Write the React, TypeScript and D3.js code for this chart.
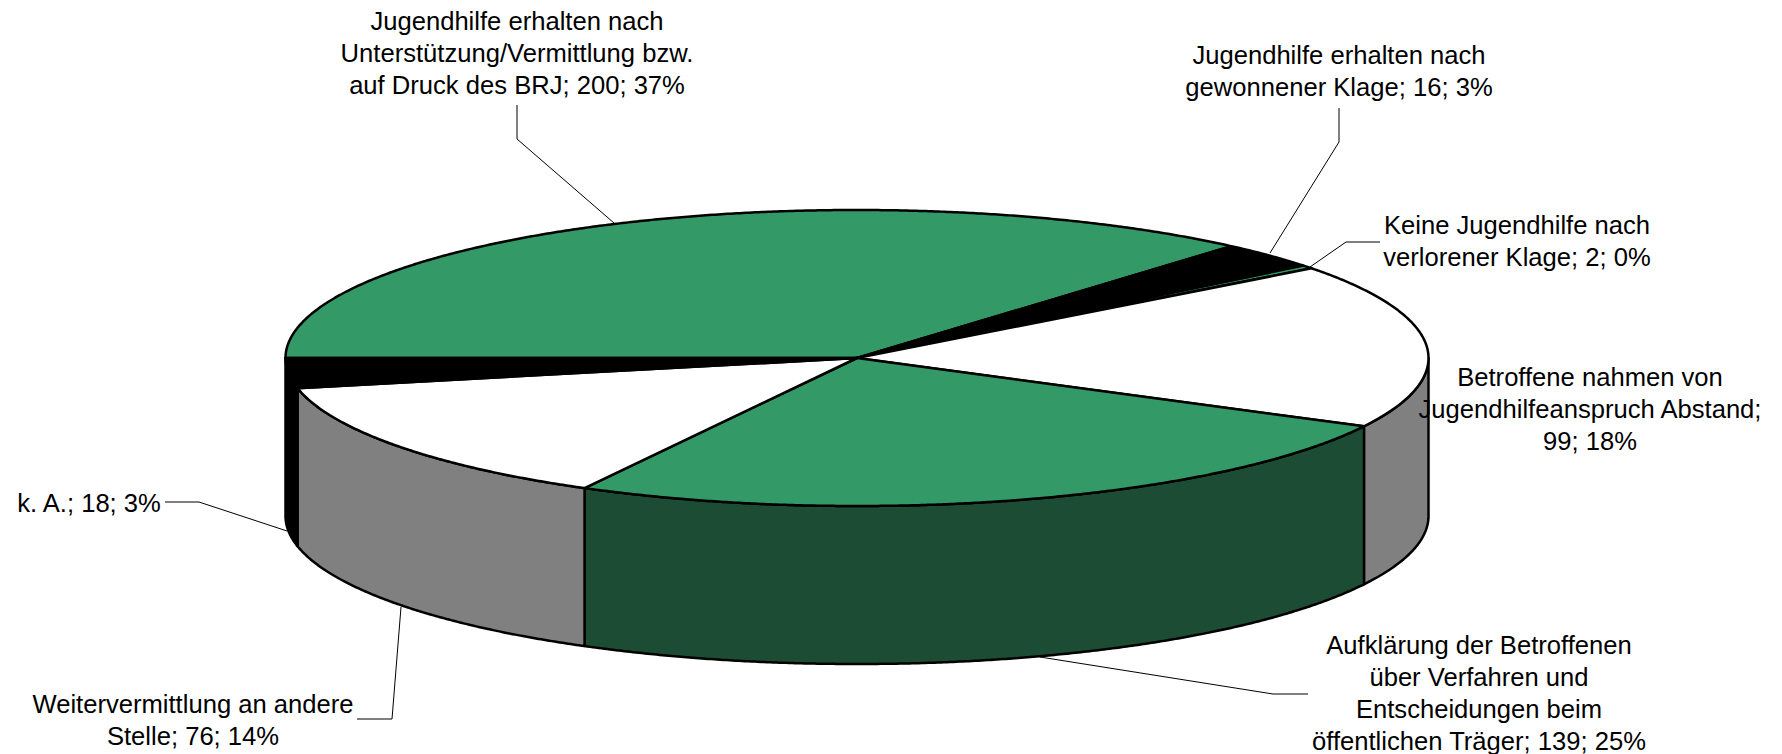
import React from "react";
import * as d3 from "d3";

// Case outcomes, in clockwise order from the nine o'clock position
const categories = [
  "Jugendhilfe erhalten nach Unterstützung/Vermittlung bzw. auf Druck des BRJ",
  "Jugendhilfe erhalten nach gewonnener Klage",
  "Keine Jugendhilfe nach verlorener Klage",
  "Betroffene nahmen von Jugendhilfeanspruch Abstand",
  "Aufklärung der Betroffenen über Verfahren und Entscheidungen beim öffentlichen Träger",
  "Weitervermittlung an andere Stelle",
  "k. A.",
];
const counts = [200, 16, 2, 99, 139, 76, 18];
const topColors = ["#339966", "#000000", "#339966", "#ffffff", "#339966", "#ffffff", "#000000"];
const sideColors = ["#1c4c33", "#000000", "#1c4c33", "#808080", "#1c4c33", "#808080", "#000000"];

// Wrapped text of each data label
const labelLines = [
  ["Jugendhilfe erhalten nach", "Unterstützung/Vermittlung bzw.", "auf Druck des BRJ; 200; 37%"],
  ["Jugendhilfe erhalten nach", "gewonnener Klage; 16; 3%"],
  ["Keine Jugendhilfe nach", "verlorener Klage; 2; 0%"],
  ["Betroffene nahmen von", "Jugendhilfeanspruch Abstand;", "99; 18%"],
  ["Aufklärung der Betroffenen", "über Verfahren und", "Entscheidungen beim", "öffentlichen Träger; 139; 25%"],
  ["Weitervermittlung an andere", "Stelle; 76; 14%"],
  ["k. A.; 18; 3%"],
];

// Label anchors: horizontal centre and first baseline
const labelX = [517, 1339, 1517, 1590, 1479, 193, 89];
const labelY = [30, 64, 234, 386, 654, 713, 512];

// Leader polylines joining labels to the pie
const leaders: [number, number][][] = [
  [[517, 105], [517, 139], [614, 223]],
  [[1339, 108], [1339, 142], [1270, 253]],
  [[1380, 242], [1346, 242], [1310, 267]],
  [],
  [[1308, 694], [1273, 694], [1040, 657]],
  [[357, 719], [392, 719], [401, 607]],
  [[165, 502], [199, 502], [287, 531]],
];

const WIDTH = 1782;
const HEIGHT = 754;
const CX = 857;
const CY = 358;
const RX = 571.5;
const RY = 148;
const DEPTH = 158;
const FONT_SIZE = 25.6;
const LINE_HEIGHT = 32;
const OUTLINE = 2.5;

const pie = d3
  .pie<number>()
  .sort(null)
  .startAngle(-Math.PI / 2)
  .endAngle((3 * Math.PI) / 2);

const rim = (theta: number, drop = 0): [number, number] => [
  CX + RX * Math.sin(theta),
  CY - RY * Math.cos(theta) + drop,
];

const line = d3.line<[number, number]>();

const rimPoints = (a0: number, a1: number, drop = 0): [number, number][] => {
  const n = Math.max(2, Math.ceil(Math.abs(a1 - a0) * 180));
  return d3.range(n + 1).map((i) => rim(a0 + ((a1 - a0) * i) / n, drop));
};

export default function App() {
  const arcs = pie(counts);
  return (
    <svg
      width={WIDTH}
      height={HEIGHT}
      viewBox={`0 0 ${WIDTH} ${HEIGHT}`}
      style={{ position: "absolute", left: 0, top: 0, background: "#fff" }}
    >
      {/* Outer wall: only the part of each slice on the front half of the disc */}
      {arcs.map((a, i) => {
        const a0 = Math.max(a.startAngle, Math.PI / 2);
        const a1 = Math.min(a.endAngle, (3 * Math.PI) / 2);
        if (a1 <= a0) return null;
        const pts = [...rimPoints(a0, a1), ...rimPoints(a1, a0, DEPTH)];
        return (
          <path
            key={i}
            d={line(pts) + "Z"}
            fill={sideColors[i]}
            stroke="#000"
            strokeWidth={OUTLINE}
            strokeLinejoin="round"
          />
        );
      })}
      {/* Top face */}
      {arcs.map((a, i) => (
        <path
          key={i}
          d={line([[CX, CY], ...rimPoints(a.startAngle, a.endAngle)]) + "Z"}
          fill={topColors[i]}
          stroke="#000"
          strokeWidth={OUTLINE}
          strokeLinejoin="round"
        >
          <title>{categories[i]}</title>
        </path>
      ))}
      {/* Leader lines */}
      {leaders.map((pts, i) =>
        pts.length ? (
          <path key={i} d={line(pts) ?? ""} fill="none" stroke="#000" strokeWidth={1} />
        ) : null
      )}
      {/* Data labels */}
      {labelLines.map((lines, i) => (
        <text
          key={i}
          textAnchor="middle"
          fontFamily="'Liberation Sans', Arial, sans-serif"
          fontSize={FONT_SIZE}
          fill="#000"
        >
          {lines.map((t, j) => (
            <tspan key={j} x={labelX[i]} y={labelY[i] + j * LINE_HEIGHT}>
              {t}
            </tspan>
          ))}
        </text>
      ))}
    </svg>
  );
}
